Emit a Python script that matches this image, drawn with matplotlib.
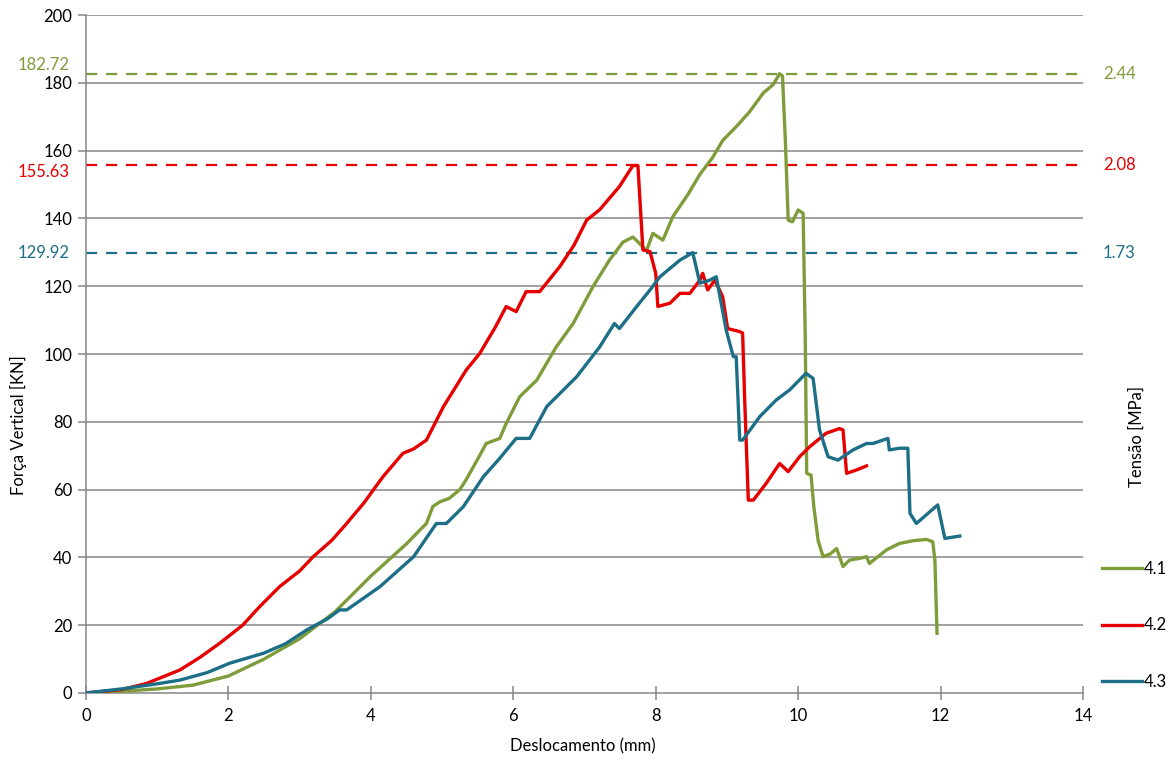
import matplotlib
matplotlib.use("Agg")
from matplotlib import pyplot as plt

plt.rcParams['font.family'] = ['Lato', 'DejaVu Sans']

# curve 4.1
x41 = [0, 0.5, 1.0, 1.5, 2.0, 2.5, 3.0, 3.5, 4.0, 4.5, 4.78, 4.87, 4.97, 5.1, 5.25, 5.34,
       5.5, 5.62, 5.81, 5.9, 6.09, 6.33, 6.6, 6.84, 7.12, 7.35, 7.54, 7.68, 7.73, 7.8,
       7.87, 7.96, 8.1, 8.24, 8.45, 8.62, 8.8, 8.94, 9.15, 9.32, 9.51, 9.65, 9.74, 9.78,
       9.82, 9.86, 9.92, 10.0, 10.07, 10.1, 10.12, 10.18, 10.22, 10.28, 10.35, 10.45,
       10.54, 10.63, 10.72, 10.86, 10.96, 11.0, 11.24, 11.42, 11.61, 11.8, 11.89, 11.92, 11.95]
y41 = [0, 0.5, 1.2, 2.3, 5, 10, 16, 24, 34.5, 44, 50, 55, 56.4, 57.4, 60, 63,
       69, 73.6, 75.1, 79.5, 87.4, 92.3, 102, 109, 119.9, 127.7, 133, 134.5, 133.5, 132,
       130.5, 135.6, 133.6, 140.5, 147, 153, 158, 163, 167.5, 171.5, 177, 179.5, 182.7, 182,
       163, 139.5, 139, 142.5, 141.5, 104, 64.8, 64.3, 55, 45, 40.2, 41,
       42.6, 37.3, 39.2, 39.7, 40.2, 38.2, 42.2, 44.1, 44.9, 45.3, 44.6, 39.2, 17.6]

# curve 4.2
x42 = [0, 0.5, 0.85, 1.32, 1.6, 1.88, 2.2, 2.44, 2.72, 3.0, 3.19, 3.45, 3.66, 3.9, 4.17,
       4.45, 4.6, 4.78, 5.02, 5.34, 5.53, 5.75, 5.9, 6.04, 6.18, 6.37, 6.65, 6.85, 7.03,
       7.21, 7.49, 7.68, 7.75, 7.82, 7.92, 8.0, 8.03, 8.2, 8.34, 8.48, 8.62, 8.66, 8.73,
       8.83, 8.94, 9.01, 9.18, 9.22, 9.25, 9.30, 9.37, 9.55, 9.74, 9.86, 10.02, 10.16,
       10.39, 10.58, 10.63, 10.68, 10.82, 10.96]
y42 = [0, 1.0, 2.8, 6.8, 10.5, 14.7, 20, 25.5, 31.4, 36, 40.2, 45, 50, 56, 63.8,
       70.7, 72, 74.6, 84.5, 95.3, 100.2, 108, 114, 112.5, 118.4, 118.4, 125.7, 132, 139.5,
       142.5, 149.4, 155.6, 155.6, 130.7, 130.2, 123.8, 114, 115, 117.9, 117.9, 121.8, 123.8, 118.9,
       121.8, 116.9, 107.5, 106.6, 106.2, 86, 56.9, 56.9, 61.8, 67.7, 65.3, 69.7, 72.6,
       76.6, 78, 77.6, 64.8, 65.8, 67]

# curve 4.3
x43 = [0, 0.5, 1.0, 1.32, 1.7, 2.02, 2.49, 2.8, 3.1, 3.4, 3.56, 3.66, 3.9, 4.13, 4.6,
       4.92, 5.06, 5.3, 5.58, 5.8, 6.04, 6.23, 6.47, 6.89, 7.21, 7.42, 7.49, 7.77, 7.92,
       8.06, 8.34, 8.52, 8.62, 8.76, 8.85, 8.99, 9.09, 9.13, 9.18, 9.22, 9.46, 9.69, 9.88,
       10.11, 10.21, 10.3, 10.42, 10.56, 10.77, 10.96, 11.05, 11.19, 11.26, 11.28, 11.42,
       11.54, 11.57, 11.66, 11.96, 12.06, 12.27]
y43 = [0, 1.2, 2.7, 3.8, 6, 8.8, 11.7, 14.5, 18.6, 22, 24.5, 24.5, 28, 31.4, 40.2,
       50, 50, 55, 63.8, 69, 75.1, 75.1, 84.5, 93.3, 102, 109, 107.5, 115, 118.9,
       122.8, 127.7, 129.9, 120.9, 121.8, 122.8, 107, 99.2, 99.2, 74.6, 74.6, 81.5, 86.4, 89.4,
       94.3, 92.8, 77.6, 69.7, 68.7, 71.7, 73.6, 73.6, 74.6, 75.1, 71.7, 72.2,
       72.2, 53, 50, 55.5, 45.6, 46.3]

labels = ['4.1', '4.2', '4.3']
colors = ['#7f9c3a', '#e60000', '#1d6f88']
peaks = [182.72, 155.63, 129.92]
peak_txt = ['182.72', '155.63', '129.92']
tensao = ['2.44', '2.08', '1.73']

fig = plt.figure(figsize=(11.73, 7.6), dpi=100)
ax = fig.add_axes([0.0733, 0.0882, 0.85, 0.892])

for yv in range(20, 201, 20):
    ax.axhline(yv, color='#868686', lw=1.1, zorder=1)

for xs, ys, c, lab in zip([x41, x42, x43], [y41, y42, y43], colors, labels):
    ax.plot(xs, ys, color=c, lw=2.4, label=lab, zorder=3, solid_joinstyle='round')

for p, c in zip(peaks, colors):
    ax.axhline(p, color=c, lw=1.6, dashes=(5, 4), zorder=2)

ax.set_xlim(0, 14)
ax.set_ylim(0, 200)
ax.set_xticks(range(0, 15, 2))
ax.set_yticks(range(0, 201, 20))
for s in ['top', 'right']:
    ax.spines[s].set_visible(False)
for s in ['left', 'bottom']:
    ax.spines[s].set_color('#868686')
    ax.spines[s].set_linewidth(1.1)
ax.tick_params(axis='y', length=6, color='#868686', width=1.1, labelsize=12, pad=4)
ax.tick_params(axis='x', direction='inout', length=10, color='#868686', width=1.1,
               labelsize=12, pad=6)

fig.text(0.016, 0.44, 'Força Vertical [KN]', rotation=90, ha='center', va='center', fontsize=12)
fig.text(0.497, 0.018, 'Deslocamento (mm)', ha='center', va='center', fontsize=12)
fig.text(0.969, 0.426, 'Tensão [MPa]', rotation=90, ha='center', va='center', fontsize=12)

# peak labels left and stress labels right
left_off = [9, -7, 0]
for p, t, c, off in zip(peaks, peak_txt, colors, left_off):
    ax.annotate(t, xy=(0, p), xycoords=('axes fraction', 'data'), xytext=(-16, off),
                textcoords='offset pixels', ha='right', va='center', color=c, fontsize=12)
for p, t, c in zip(peaks, tensao, colors):
    ax.annotate(t, xy=(1, p), xycoords=('axes fraction', 'data'), xytext=(20, 0),
                textcoords='offset pixels', ha='left', va='center', color=c, fontsize=12)

leg = ax.legend(loc='upper left', bbox_to_anchor=(1.012, 0.205), frameon=False,
                fontsize=12, handlelength=2.4, handletextpad=0.15, labelspacing=2.45,
                borderaxespad=0)

fig.savefig('out.png', dpi=100)
